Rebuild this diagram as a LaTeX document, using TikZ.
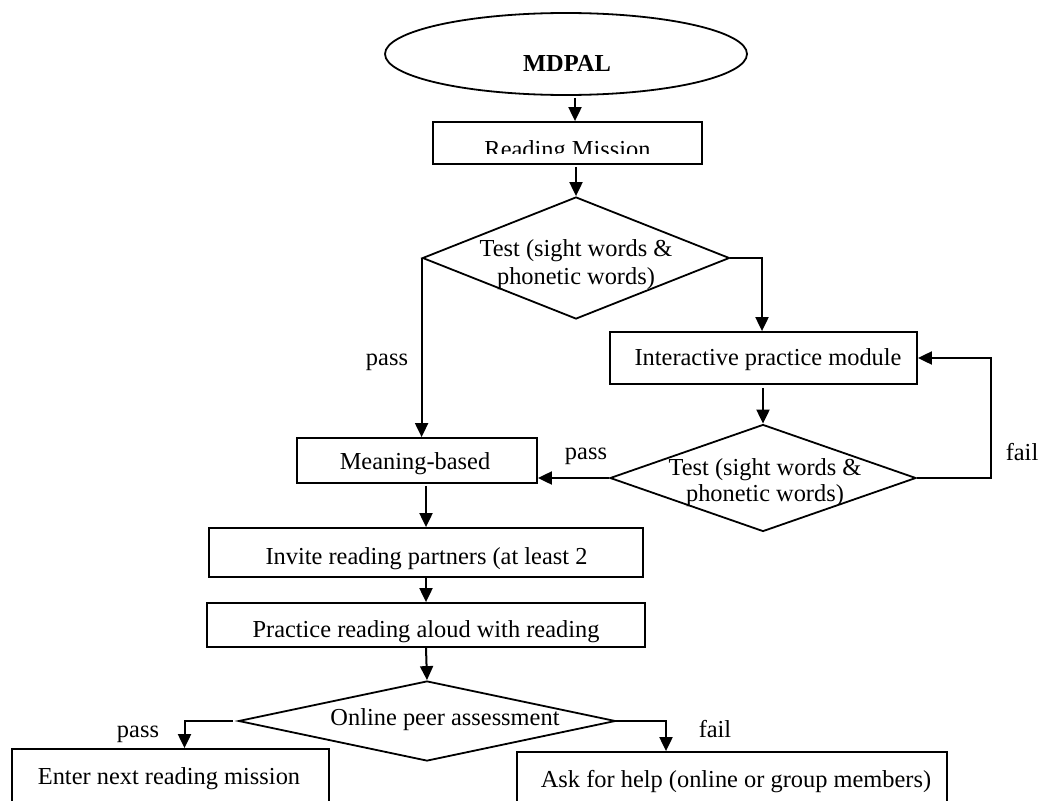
\documentclass[tikz,border=0pt]{standalone}
\usepackage{fontspec}
\setmainfont{Liberation Serif}
\usetikzlibrary{shapes.geometric,arrows.meta,calc}
\begin{document}
\begin{tikzpicture}[x=1pt,y=-1pt,
  every node/.style={font=\fontsize{24.4}{28}\selectfont},
  box/.style={draw,line width=1.8pt,rectangle,inner sep=0pt},
  dia/.style={draw,line width=1.8pt,diamond,inner sep=0pt},
  oval/.style={draw,line width=1.8pt,ellipse,inner sep=0pt},
  txt/.style={inner sep=0pt,align=center},
  arr/.style={line width=2pt,-{Triangle[length=14pt,width=13pt]}},
  ln/.style={line width=2pt}]
\useasboundingbox (0,0) rectangle (1038,800);
\clip (0,0) rectangle (1038,800);
% shapes
\node[oval,minimum width=362pt,minimum height=82pt] (ell) at (566,54) {};
\node[txt,font=\fontsize{24.4}{28}\selectfont\bfseries] (ellt) at (567,63) {MDPAL};
\node[box,minimum width=269pt,minimum height=42pt] (rm) at (567.5,143) {};
\begin{scope}
\clip (433,122) rectangle (702,153);
\node[txt,anchor=base] (rmt) at (567.5,157) {Reading Mission};
\end{scope}
\node[dia,minimum width=307pt,minimum height=122pt] (d1) at (576,258) {};
\node[txt] (d1t) at (576,265) {Test (sight words \&\\phonetic words)};
\node[box,minimum width=307pt,minimum height=52pt] (ipm) at (763.5,358) {};
\node[txt] (ipmt) at (768,360) {Interactive practice module};
\node[dia,minimum width=306pt,minimum height=107pt] (d2) at (763,478) {};
\node[txt,font=\fontsize{24.4}{26}\selectfont] (d2t) at (765,483) {Test (sight words \&\\phonetic words)};
\node[box,minimum width=240pt,minimum height=45pt] (mb) at (417,460.5) {};
\node[txt] (mbt) at (415,464) {Meaning-based};
\node[box,minimum width=434pt,minimum height=49pt] (inv) at (426,552.5) {};
\node[txt] (invt) at (426.5,559) {Invite reading partners (at least 2};
\node[box,minimum width=438pt,minimum height=44pt] (prac) at (426,625) {};
\node[txt] (pract) at (426,632) {Practice reading aloud with reading};
\node[dia,minimum width=377pt,minimum height=80pt] (d3) at (427,721) {};
\node[txt] (d3t) at (445,720) {Online peer assessment};
\node[box,minimum width=317pt,minimum height=70pt] (enter) at (170.5,784) {};
\node[txt] (entert) at (169,779) {Enter next reading mission};
\node[box,minimum width=430pt,minimum height=70pt] (ask) at (732,787) {};
\node[txt] (askt) at (736,782) {Ask for help (online or group members)};
% labels
\node[txt] (p1) at (387,362) {pass};
\node[txt] (p2) at (586,456) {pass};
\node[txt] (f1) at (1022,452) {fail};
\node[txt] (p3) at (138,734) {pass};
\node[txt] (f2) at (715,729) {fail};
\coordinate (loop) at (991,478);
% connectors
\draw[arr] ([xshift=9pt,yshift=-2pt]ell.south) -- ([xshift=7.5pt]rm.north);
\draw[arr] ([yshift=-2pt]rm.south -| d1.north) -- (d1.north);
\draw[arr] (d1.east) -| ([xshift=-1.5pt]ipm.north);
\draw[arr] (d1.west) -- (d1.west |- mb.north);
\draw[arr] ([yshift=-3pt]ipm.south -| d2.north) -- (d2.north);
\draw[arr] (d2.west) -- (d2.west -| mb.east);
\draw[ln] (d2.east) -- (loop) -- ([yshift=2pt]loop);
\draw[arr] (loop) |- (ipm.east);
\draw[arr] ([yshift=-2pt]mb.south -| inv.north) -- (inv.north);
\draw[arr] (inv.south) -- (prac.north);
\draw[arr] (prac.south) -- (d3.north);
\draw[arr] ([xshift=-5pt]d3.west) -| ([xshift=14pt]enter.north);
\draw[arr] (d3.east) -| ([xshift=-66pt]ask.north);
\end{tikzpicture}
\end{document}
